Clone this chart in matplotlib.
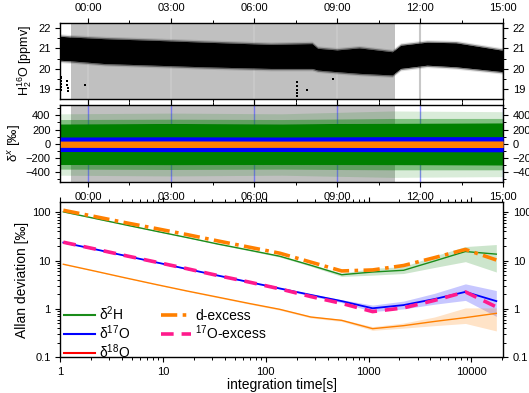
import numpy as np
import matplotlib
matplotlib.use("Agg")
import matplotlib.pyplot as plt
from matplotlib.lines import Line2D
from matplotlib.ticker import FixedLocator, NullFormatter, LogLocator

plt.rcParams['font.family'] = ['Liberation Sans', 'DejaVu Sans']
plt.rcParams['mathtext.fontset'] = 'custom'
plt.rcParams['mathtext.rm'] = 'Liberation Sans'
plt.rcParams['mathtext.it'] = 'Liberation Sans:italic'

# ---------------- data ----------------
time_ticks = [0, 3, 6, 9, 12, 15]
time_labels = ["00:00", "03:00", "06:00", "09:00", "12:00", "15:00"]
shade_start, shade_end = -0.63, 11.1

# H2 16O envelope (hours, ppmv)
t_env = [-1.0, -0.6, 0.6, 2.4, 4.2, 6.6, 8.1, 8.3, 9.0, 9.8, 11.0, 11.3, 12.25, 13.3, 15.0]
h2o_hi = [21.60, 21.56, 21.48, 21.40, 21.31, 21.20, 21.24, 21.01, 20.93, 21.03, 20.84, 21.16, 21.31, 21.28, 20.91]
h2o_lo = [20.42, 20.39, 20.26, 20.18, 20.10, 20.02, 20.02, 19.94, 19.86, 19.78, 19.70, 20.02, 20.18, 20.10, 19.86]
# outlier points
out_t = [-0.97, -0.97, -0.97, -0.97, -0.96, -0.96, -0.75, -0.75, -0.74, -0.74, -0.12,
         7.54, 7.54, 7.54, 7.54, 7.54, 7.9, 8.86]
out_v = [19.55, 19.4, 19.25, 19.1, 18.95, 19.6, 19.4, 19.2, 19.05, 18.9, 19.2,
         19.36, 19.15, 18.95, 18.8, 18.65, 18.96, 19.48]

# delta values envelopes (permil)
mid_t = [-1, 3, 7, 11, 15]
green_hi = [280, 285, 280, 290, 295]
green_lo = [-290, -295, -290, -295, -300]
green_mid_hi = [340, 345, 340, 355, 355]
green_mid_lo = [-355, -360, -355, -365, -365]
green_out_hi = [420, 430, 420, 460, 450]
green_out_lo = [-440, -450, -440, -470, -460]
blue_hi = [95, 98, 95, 100, 100]
blue_lo = [-108, -110, -108, -110, -112]
orange_hi = [38, 40, 38, 40, 40]
orange_lo = [-50, -52, -50, -52, -52]

# Allan deviation
taus = [1.07, 2.14, 4.28, 8.56, 17.1, 34.2, 68.5, 137, 274, 548, 1096, 2192, 4384, 8768, 17536]
d2h = [102, 75, 55, 40.5, 30, 22, 16.5, 12.3, 8.0, 5.1, 5.8, 6.3, 9.8, 15.4, 13.6]
d2h_lo = [101, 74, 54, 40, 29.5, 21.5, 16, 11.8, 7.6, 4.7, 5.0, 5.4, 7.2, 9.5, 5.8]
d2h_hi = [103, 76, 56, 41, 30.5, 22.5, 17, 12.8, 8.4, 5.5, 6.9, 7.5, 12.5, 19.5, 21.5]
d17o = [23.6, 17.3, 12.6, 9.2, 6.7, 4.9, 3.6, 2.65, 1.95, 1.45, 1.03, 1.2, 1.6, 2.25, 1.45]
d17o_lo = [23.3, 17.1, 12.4, 9.05, 6.6, 4.8, 3.5, 2.55, 1.85, 1.35, 0.88, 1.0, 1.25, 1.5, 0.7]
d17o_hi = [23.9, 17.5, 12.8, 9.35, 6.8, 5.0, 3.7, 2.75, 2.05, 1.55, 1.2, 1.45, 2.1, 3.3, 2.4]
d18o = [8.4, 6.1, 4.4, 3.2, 2.35, 1.75, 1.3, 0.98, 0.68, 0.58, 0.39, 0.45, 0.55, 0.66, 0.81]
d18o_lo = [8.3, 6.0, 4.33, 3.15, 2.3, 1.7, 1.26, 0.94, 0.65, 0.55, 0.36, 0.40, 0.45, 0.50, 0.35]
d18o_hi = [8.5, 6.2, 4.47, 3.25, 2.4, 1.8, 1.34, 1.02, 0.71, 0.61, 0.43, 0.51, 0.68, 1.05, 1.05]
dex = [110, 82, 61, 46, 34.5, 25.5, 19, 14.2, 9.3, 6.1, 6.4, 7.9, 11.5, 17, 10.3]
o17ex = [24, 17.5, 12.7, 9.3, 6.8, 4.9, 3.6, 2.6, 1.8, 1.3, 0.88, 1.05, 1.5, 2.25, 1.1]

GREEN = '#008000'
BLUE = '#0000ff'
ORANGE = '#ff8000'
PINK = '#ff1a8c'
GRAY = '#c0c0c0'

fig = plt.figure(figsize=(5.29, 3.93), dpi=100)
L, W = 0.114, 0.837
ax1 = fig.add_axes([L, 0.748, W, 0.194])
ax2 = fig.add_axes([L, 0.536, W, 0.198])
ax3 = fig.add_axes([L, 0.091, W, 0.394])

tick_kw = dict(direction='out', length=3.5, width=0.8, labelsize=8)
minor_kw = dict(direction='out', length=2, width=0.7)

def style_time_axis(ax, top_labels):
    ax.set_xlim(-1.0, 15.0)
    ax.xaxis.set_major_locator(FixedLocator(time_ticks))
    ax.xaxis.set_minor_locator(FixedLocator([t + 1.5 for t in [-3] + time_ticks[:-1]]))
    ax.set_xticklabels(time_labels)
    ax.tick_params(axis='both', which='major', top=True, right=True,
                   labeltop=top_labels, labelbottom=not top_labels,
                   labelright=True, **tick_kw)
    ax.tick_params(axis='both', which='minor', top=True, right=True, **minor_kw)
    for s in ax.spines.values():
        s.set_linewidth(1.0)

# ---------- top panel ----------
ax1.axvspan(shade_start, shade_end, color=GRAY, lw=0, zorder=0)
for t in time_ticks:
    ax1.axvline(t, color='#c8c8c8', lw=1.5, zorder=0.5)
hi = np.array(h2o_hi)
lo = np.array(h2o_lo)
ax1.fill_between(t_env, lo, hi, color='k', lw=0, zorder=2)
ax1.fill_between(t_env, hi, hi + 0.06, color='k', alpha=0.5, lw=0, zorder=2)
ax1.fill_between(t_env, lo - 0.06, lo, color='k', alpha=0.5, lw=0, zorder=2)
ax1.fill_between(t_env, hi + 0.06, hi + 0.12, color='k', alpha=0.12, lw=0, zorder=2)
ax1.fill_between(t_env, lo - 0.12, lo - 0.06, color='k', alpha=0.12, lw=0, zorder=2)
ax1.scatter(out_t, out_v, s=2, color='k', marker='s', lw=0, zorder=3)
ax1.set_ylim(18.52, 22.26)
ax1.set_yticks([19, 20, 21, 22])
ax1.yaxis.set_minor_locator(FixedLocator([18.5, 19.5, 20.5, 21.5]))
style_time_axis(ax1, True)
ax1.set_ylabel('H$_{2}^{16}$O [ppmv]', fontsize=9, labelpad=3)

# ---------- middle panel ----------
ax2.axvspan(shade_start, shade_end, color=GRAY, lw=0, zorder=0)
for t in time_ticks:
    ax2.axvline(t, color='#5a5aff', lw=1.0, alpha=0.7, zorder=0.5)
ax2.fill_between(mid_t, green_mid_hi, green_out_hi, color=GREEN, alpha=0.15, lw=0, zorder=1)
ax2.fill_between(mid_t, green_out_lo, green_mid_lo, color=GREEN, alpha=0.15, lw=0, zorder=1)
ax2.fill_between(mid_t, green_hi, green_mid_hi, color=GREEN, alpha=0.5, lw=0, zorder=1)
ax2.fill_between(mid_t, green_mid_lo, green_lo, color=GREEN, alpha=0.5, lw=0, zorder=1)
ax2.fill_between(mid_t, green_lo, green_hi, color=GREEN, lw=0, zorder=2)
ax2.fill_between(mid_t, blue_lo, blue_hi, color=BLUE, lw=0, zorder=3)
ax2.fill_between(mid_t, orange_lo, orange_hi, color=ORANGE, lw=0, zorder=4)
ax2.set_ylim(-540, 550)
ax2.set_yticks([-400, -200, 0, 200, 400])
ax2.yaxis.set_minor_locator(FixedLocator([-500, -300, -100, 100, 300, 500]))
style_time_axis(ax2, False)
ax2.set_ylabel('δ$^{x}$ [‰]', fontsize=9.5, labelpad=2)

# ---------- bottom panel ----------
ax3.fill_between(taus, d2h_lo, d2h_hi, color=GREEN, alpha=0.2, lw=0)
ax3.fill_between(taus, d17o_lo, d17o_hi, color=BLUE, alpha=0.22, lw=0)
ax3.fill_between(taus, d18o_lo, d18o_hi, color=ORANGE, alpha=0.22, lw=0)
ax3.plot(taus, d2h, color='#1a8c1a', lw=1.0)
ax3.plot(taus, d17o, color=BLUE, lw=1.3)
ax3.plot(taus, d18o, color=ORANGE, lw=1.0)
ax3.plot(taus, dex, color=ORANGE, lw=2.6, ls=(0, (4.5, 1.5, 1.0, 1.5)))
ax3.plot(taus, o17ex, color=PINK, lw=2.6, ls=(0, (3.5, 2.2)))
ax3.set_xscale('log')
ax3.set_yscale('log')
ax3.set_xlim(1, 20400)
ax3.set_ylim(0.1, 160)
ax3.set_xticks([1, 10, 100, 1000, 10000])
ax3.set_xticklabels(['1', '10', '100', '1000', '10000'])
ax3.set_yticks([0.1, 1, 10, 100])
ax3.set_yticklabels(['0.1', '1', '10', '100'])
ax3.xaxis.set_minor_locator(LogLocator(base=10, subs=np.arange(2, 10), numticks=20))
ax3.yaxis.set_minor_locator(LogLocator(base=10, subs=np.arange(2, 10), numticks=20))
ax3.xaxis.set_minor_formatter(NullFormatter())
ax3.yaxis.set_minor_formatter(NullFormatter())
ax3.tick_params(axis='both', which='major', top=True, right=True, labelright=True, **tick_kw)
ax3.tick_params(axis='both', which='minor', top=True, right=True, **minor_kw)
for s in ax3.spines.values():
    s.set_linewidth(1.0)
ax3.set_xlabel('integration time[s]', fontsize=10, labelpad=1)
ax3.set_ylabel('Allan deviation [‰]', fontsize=10, labelpad=2)

handles = [
    Line2D([], [], color='#1a8c1a', lw=1.5),
    Line2D([], [], color=BLUE, lw=1.5),
    Line2D([], [], color='#ff0000', lw=1.5),
    Line2D([], [], color=ORANGE, lw=2.6, ls=(0, (4.5, 1.5, 1.0, 1.5))),
    Line2D([], [], color=PINK, lw=2.6, ls=(0, (3.5, 2.2))),
]
labels = ['δ$^{2}$H', 'δ$^{17}$O', 'δ$^{18}$O', 'd-excess', '$^{17}$O-excess']
ax3.legend(handles, labels, ncol=2, frameon=False, fontsize=10, loc='lower left',
           bbox_to_anchor=(-0.01, -0.075), handlelength=2.2, handletextpad=0.3,
           columnspacing=2.2, labelspacing=0.02, borderaxespad=0.2)

fig.savefig('out.png', dpi=100)
